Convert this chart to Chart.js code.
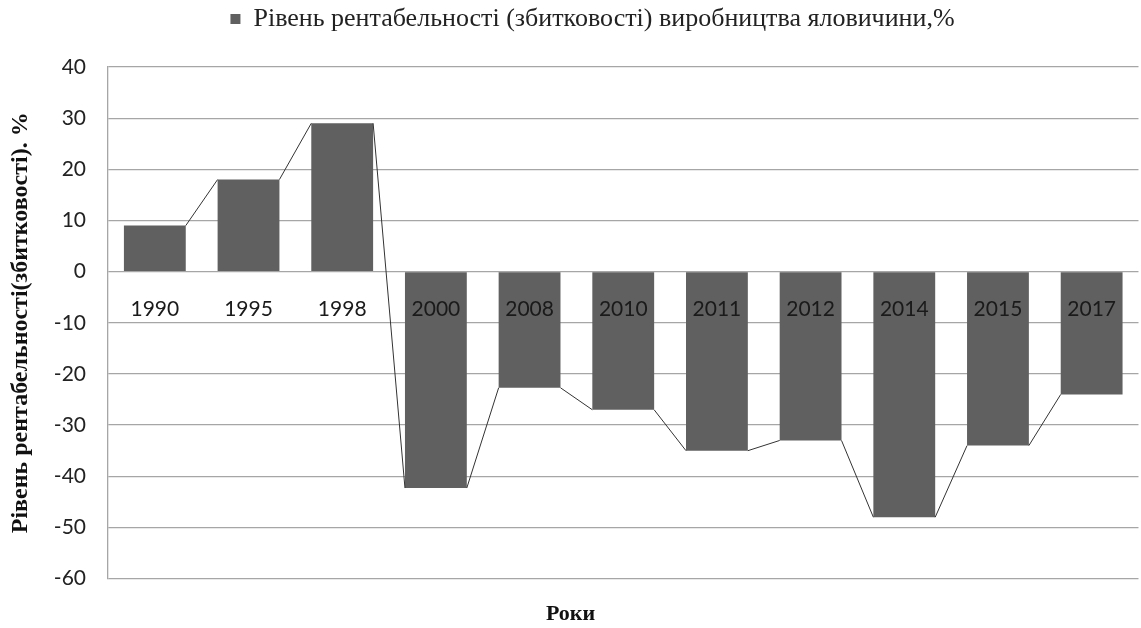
<!DOCTYPE html>
<html><head><meta charset="utf-8">
<script src="https://cdn.jsdelivr.net/npm/chart.js@4/dist/chart.umd.min.js"></script>
<style>html,body{margin:0;padding:0;background:#fff}#wrap{width:1141px;height:628px;position:relative}</style>
</head><body><div id="wrap"><canvas id="c"></canvas></div>
<script>
const years = ['1990','1995','1998','2000','2008','2010','2011','2012','2014','2015','2017'];
const values = [9, 18, 29, -42.3, -22.7, -27, -35, -33, -48, -34, -24];
const yMin = -60, yMax = 40, yStep = 10;
const seriesName = 'Рівень рентабельності (збитковості) виробництва яловичини,%';
const yTitle = 'Рівень рентабельності(збитковості). %';
const xTitle = 'Роки';

const seriesLines = {
  id: 'seriesLines',
  afterDatasetsDraw(chart) {
    const els = chart.getDatasetMeta(0).data;
    const ctx = chart.ctx;
    ctx.save();
    ctx.strokeStyle = '#333333';
    ctx.lineWidth = 1;
    ctx.beginPath();
    for (let i = 0; i < els.length - 1; i++) {
      const a = els[i], b = els[i + 1];
      ctx.moveTo(a.x + a.width / 2, a.y);
      ctx.lineTo(b.x - b.width / 2, b.y);
    }
    ctx.stroke();
    ctx.restore();
  }
};
const legendSpace = {
  id: 'legendSpace',
  beforeUpdate(chart) {
    const lg = chart.legend;
    if (lg && !lg._patched) {
      const fit = lg.fit;
      lg.fit = function () { fit.call(this); this.height += 25; };
      const draw = lg.draw;
      lg.draw = function () {
        this.ctx.save();
        this.ctx.translate(22, 0);
        draw.call(this);
        this.ctx.restore();
      };
      lg._patched = true;
    }
  }
};

new Chart(document.getElementById('c'), {
  type: 'bar',
  data: {
    labels: years,
    datasets: [{
      label: seriesName,
      data: values,
      backgroundColor: '#606060',
      borderWidth: 0,
      categoryPercentage: 1,
      barPercentage: 0.66
    }]
  },
  plugins: [seriesLines, legendSpace],
  options: {
    responsive: true,
    maintainAspectRatio: false,
    animation: false,
    devicePixelRatio: 1,
    layout: { padding: { left: 0, right: 0, top: 0, bottom: 0 } },
    plugins: {
      tooltip: { enabled: false },
      legend: {
        position: 'top',
        labels: {
          font: { family: 'Liberation Serif', size: 26 },
          color: '#222',
          boxWidth: 10,
          boxHeight: 10,
          padding: 6
        }
      },
      title: {
        display: true,
        position: 'bottom',
        text: xTitle,
        font: { family: 'Liberation Serif', size: 22, weight: 'bold' },
        color: '#111',
        padding: { top: 23, bottom: 0 }
      }
    },
    scales: {
      x: {
        position: { y: 0 },
        grid: { display: false, drawTicks: false },
        border: { display: false },
        ticks: {
          z: 1,
          font: { family: 'Lato', size: 21 },
          color: '#1a1a1a',
          padding: 25,
          maxRotation: 0,
          autoSkip: false
        }
      },
      y: {
        min: yMin,
        max: yMax,
        afterFit(s) { s.width = 108; },
        ticks: {
          stepSize: yStep,
          font: { family: 'Lato', size: 21 },
          color: '#222',
          padding: 22
        },
        grid: { color: '#a6a6a6', lineWidth: 1.3, drawTicks: false },
        border: { display: true, color: '#a6a6a6', width: 1.3 },
        title: {
          display: true,
          text: yTitle,
          font: { family: 'Liberation Serif', size: 24, weight: 'bold' },
          color: '#111',
          padding: { top: 6, bottom: 0 }
        }
      }
    }
  }
});
</script></body></html>
